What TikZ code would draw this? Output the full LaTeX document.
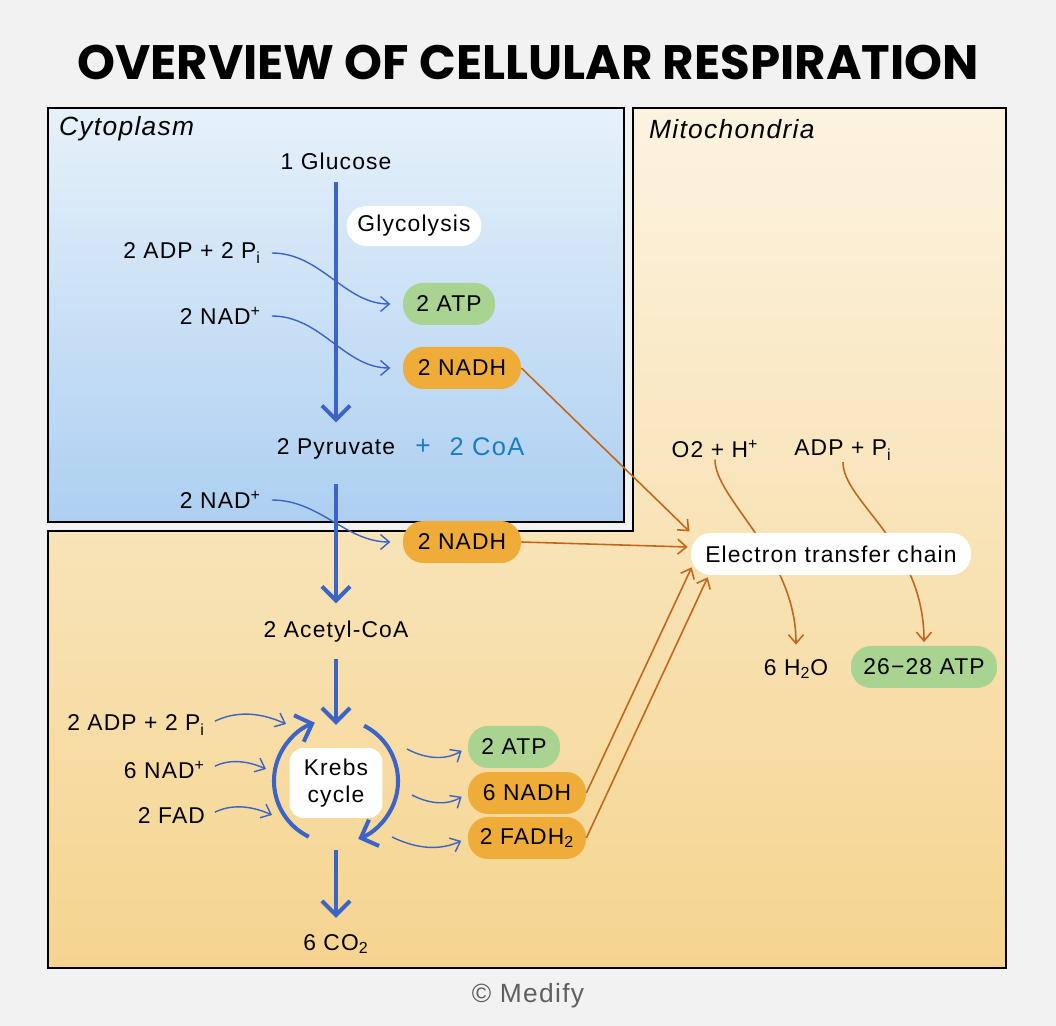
\documentclass[tikz,border=0pt]{standalone}
\usepackage{fontspec}
\setmainfont{Liberation Sans}[LetterSpace=5]
\newfontfamily\headfont{Poppins}
\usepackage{xcolor}
\definecolor{CRback}{HTML}{F2F2F2}
\definecolor{CRskytop}{HTML}{E6F1FA}
\definecolor{CRskybot}{HTML}{ADCFF1}
\definecolor{CRsandtop}{HTML}{FCF3E0}
\definecolor{CRsandbot}{HTML}{F5D48F}
\definecolor{CRgreen}{HTML}{A8D390}
\definecolor{CRamber}{HTML}{F0AC38}
\definecolor{CRblue}{HTML}{3B64C6}
\definecolor{CRrust}{HTML}{C3661A}
\definecolor{CRcoa}{HTML}{1A7DC4}
\definecolor{CRgrey}{HTML}{5F5F5F}
\usepackage{tikz}
\usetikzlibrary{arrows.meta,calc}
\pgfdeclarelayer{under}
\pgfsetlayers{under,main}

\begin{document}
\begin{tikzpicture}[x=0.02cm,y=0.02cm,
  lbl/.style={inner sep=1pt,font=\fontsize{13}{15.5}\selectfont},
  pill/.style={lbl,rounded corners=0.4cm,minimum height=0.84cm,minimum width=2.36cm},
  flow/.style={draw=CRblue,line width=2.3pt,-{Straight Barb[length=8pt,width=16pt]}},
  feed/.style={draw=CRblue,line width=0.8pt,-{Straight Barb[length=5pt,width=8.5pt]}},
  relay/.style={draw=CRrust,line width=0.9pt,-{Straight Barb[length=5pt,width=8.5pt]}},
  region/.style={font=\fontsize{15}{18}\selectfont\itshape,inner sep=1pt,anchor=west}]
\begin{pgfonlayer}{under}
\fill[CRback] (0,0) rectangle (1056,-1026);
\useasboundingbox (0,0) rectangle (1056,-1026);
\shade[top color=CRsandtop,bottom color=CRsandbot]
  (633,-108) -- (1006,-108) -- (1006,-968) -- (48,-968) -- (48,-531) -- (633,-531) -- cycle;
\draw[line width=1.1pt]
  (633,-108) -- (1006,-108) -- (1006,-968) -- (48,-968) -- (48,-531) -- (633,-531) -- cycle;
\shade[top color=CRskytop,bottom color=CRskybot,draw=black,line width=1.1pt]
  (48,-108) rectangle (624,-522);
\end{pgfonlayer}
\node[font=\headfont\bfseries\fontsize{27.5}{31}\selectfont] (title) at (528,-62) {OVERVIEW OF CELLULAR RESPIRATION};
\node[region] (cyto) at (57,-129) {Cytoplasm};
\node[region] (mito) at (647,-129) {Mitochondria};
\node[lbl] (glucose) at (336,-161) {1 Glucose};
\node[pill,fill=white,minimum width=2.7cm,minimum height=0.8cm] (glyco) at (414,-226) {Glycolysis};
\node[lbl,anchor=east] (adp1) at (263,-253) {2 ADP + 2 P\textsubscript{i}};
\node[lbl,anchor=east] (nad1) at (263,-316) {2 NAD\textsuperscript{+}};
\node[pill,fill=CRgreen,minimum width=1.84cm] (atp1) at (449,-304) {2 ATP};
\node[pill,fill=CRamber] (nadh1) at (462,-368) {2 NADH};
\node[lbl] (pyruvate) at (336,-449) {2 Pyruvate};
\node[lbl,text=CRcoa,font=\fontsize{15}{17}\selectfont] (plus) at (423,-447) {+};
\node[lbl,text=CRcoa,font=\fontsize{14.5}{17}\selectfont] (coa) at (487,-447) {2 CoA};
\node[lbl,anchor=east] (nad2) at (263,-500) {2 NAD\textsuperscript{+}};
\node[pill,fill=CRamber] (nadh2) at (462,-542) {2 NADH};
\node[lbl] (acetyl) at (336,-632) {2 Acetyl-CoA};
\node[lbl,anchor=east] (adp2) at (207,-725) {2 ADP + 2 P\textsubscript{i}};
\node[lbl,anchor=east] (nad3) at (207,-770) {6 NAD\textsuperscript{+}};
\node[lbl,anchor=east] (fad) at (207,-816) {2 FAD};
\node[lbl,fill=white,rounded corners=0.28cm,minimum width=1.86cm,minimum height=1.4cm,
  align=center,font=\fontsize{13}{15.5}\selectfont] (krebs) at (336,-783) {Krebs\\cycle};
\node[pill,fill=CRgreen,minimum width=1.84cm] (atp2) at (514,-747) {2 ATP};
\node[pill,fill=CRamber] (nadh3) at (527,-793) {6 NADH};
\node[pill,fill=CRamber] (fadh) at (527,-838) {2 FADH\textsubscript{2}};
\node[lbl] (co2) at (336,-944) {6 CO\textsubscript{2}};
\node[lbl] (o2) at (715,-449) {O2 + H\textsuperscript{+}};
\node[lbl] (adp3) at (843,-450) {ADP + P\textsubscript{i}};
\node[pill,fill=white,minimum width=5.6cm] (etc) at (831,-554) {Electron transfer chain};
\node[lbl] (h2o) at (796,-669) {6 H\textsubscript{2}O};
\node[pill,fill=CRgreen,minimum width=2.92cm] (atp3) at (924,-667) {26−28 ATP};
\node[lbl,text=CRgrey,font=\fontsize{15}{18}\selectfont] (credit) at (528,-996) {© Medify};
\coordinate (kc) at (336,-781);
\coordinate (kin1) at (286,-724);
\coordinate (kin2) at (266,-769);
\coordinate (kin3) at (272,-815);
\coordinate (kout1) at (407,-749);
\coordinate (kout2) at (412,-795);
\coordinate (kout3) at (392,-837);
\draw[flow,shorten <=6pt,shorten >=8pt] (glucose) -- (pyruvate);
\draw[flow,shorten <=13pt,shorten >=9pt] (pyruvate) -- (acetyl);
\draw[flow,shorten <=8pt,shorten >=13pt] (acetyl) -- (krebs);
\draw[flow,shorten <=18pt,shorten >=8pt] (krebs) -- (co2);
\draw[flow] ($(kc)+(244:62)$) arc[start angle=244,end angle=110,radius=62];
\draw[flow] ($(kc)+(63:62)$) arc[start angle=63,end angle=-69,radius=62];
\draw[feed,shorten <=5pt,shorten >=7pt] (adp1.east) to[out=0,in=180] (atp1.west);
\draw[feed,shorten <=5pt,shorten >=7pt] (nad1.east) to[out=0,in=180] (nadh1.west);
\draw[feed,shorten <=5pt,shorten >=7pt] (nad2.east) to[out=0,in=180] (nadh2.west);
\draw[feed,shorten <=5pt] (adp2.east) to[bend left=25] (kin1);
\draw[feed,shorten <=5pt] (nad3.east) to[bend left=25] (kin2);
\draw[feed,shorten <=5pt] (fad.east) to[bend left=25] (kin3);
\draw[feed,shorten >=4pt] (kout1) to[bend right=30] (atp2.west);
\draw[feed,shorten >=4pt] (kout2) to[bend right=30] (nadh3.west);
\draw[feed,shorten >=4pt] (kout3) to[bend right=25] (fadh.west);
\draw[relay,shorten >=1pt] (nadh1.east) -- (etc.north west);
\draw[relay] (nadh2.east) -- ($(etc.west)+(-3,7)$);
\draw[relay] (nadh3.east) -- ($(etc.south west)+(1,8)$);
\draw[relay] (fadh.east) -- ($(etc.south west)+(17,-2)$);
\begin{pgfonlayer}{under}
\draw[relay,shorten >=7pt] (o2.south) .. controls +(0,-40) and +(0,102) .. (h2o.north);
\draw[relay,shorten >=2pt] (adp3.south) .. controls +(0,-40) and +(0,102) .. (atp3.north);
\end{pgfonlayer}
\end{tikzpicture}
\end{document}
